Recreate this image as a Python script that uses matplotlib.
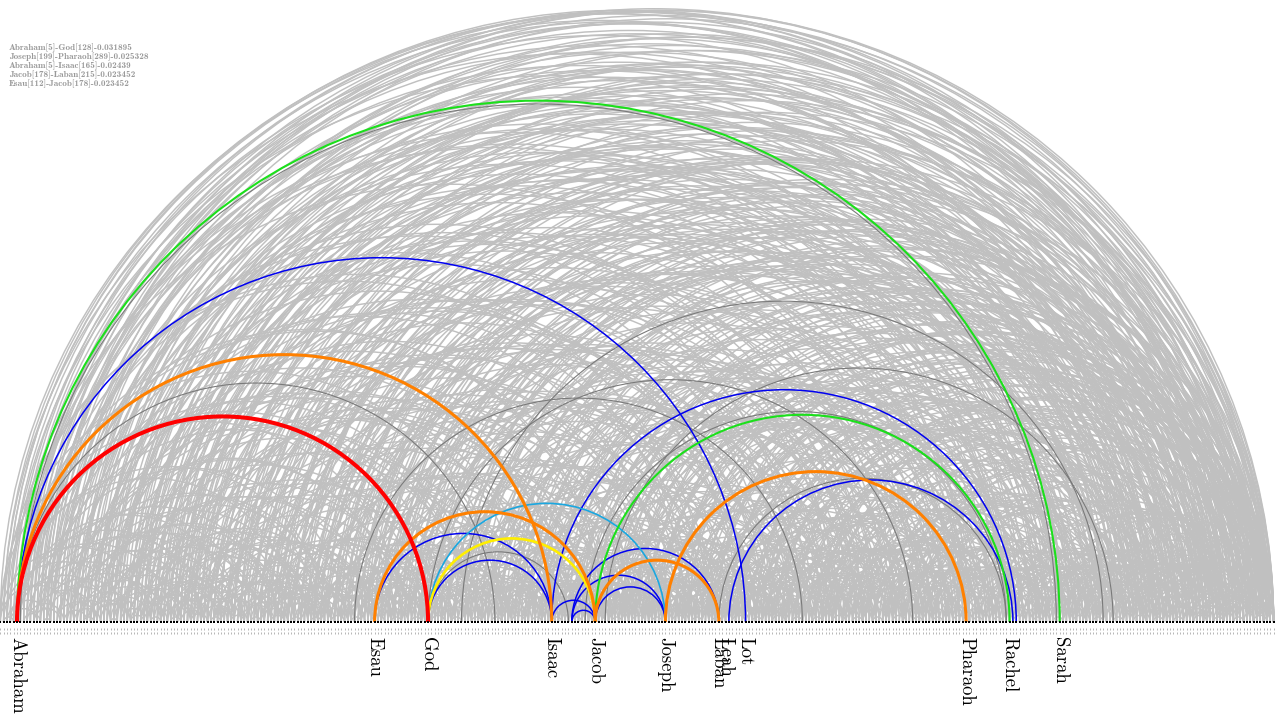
import matplotlib
matplotlib.use("Agg")
import matplotlib.pyplot as plt
from matplotlib.patches import Arc

# ---------------- data ----------------
n_nodes = 382
label_names = ["Abraham", "Esau", "God", "Isaac", "Jacob", "Joseph", "Laban",
               "Leah", "Lot", "Pharaoh", "Rachel", "Sarah"]
label_index = [5, 112, 128, 165, 178, 199, 215, 217, 223, 289, 302, 317]

top_pairs = ["Abraham[5]-God[128]-0.031895",
             "Joseph[199]-Pharaoh[289]-0.025328",
             "Abraham[5]-Isaac[165]-0.02439",
             "Jacob[178]-Laban[215]-0.023452",
             "Esau[112]-Jacob[178]-0.023452"]

gray_long = [(15,381),(1,365),(2,368),(3,362),(14,380),(6,351),(7,340),(8,366),(9,318),(10,296),(11,365),(12,250),(13,333),(14,212),(15,378),(16,290),(18,344),(19,156),(20,301),(21,367),(22,98),(23,274),(24,355),(25,187),(26,330),(27,61),(28,242),(29,379),(30,140),(31,312),(32,200),(33,359),(34,85),(35,268),(36,345),(37,120),(38,224),(39,374),(40,175),(41,306),(42,57),(43,236),(44,350),(45,92),(46,282),(47,368),(48,150),(49,320),(50,210),(51,376),(52,73),(53,258),(54,338),(55,131),(56,299),(57,190),(58,363),(59,108),(60,272),(61,347),(62,166),(63,316),(64,81),(65,229),(66,371),(67,143),(68,289),(69,205),(70,357),(71,112),(72,262),(73,332),(74,95),(75,247),(76,375),(77,181),(78,308),(79,128),(80,219),(81,352),(82,104),(83,286),(84,170),(85,364),(86,137),(87,241),(88,326),(89,117),(90,278),(91,369),(92,160),(93,231),(94,342),(95,126),(96,304),(97,196),(98,373),(99,147),(100,255),(101,336),(102,134),(103,292),(104,215),(105,360),(106,152),(107,244),(108,321),(109,178),(110,277),(111,366),(112,199),(113,233),(114,349),(115,162),(116,302),(117,188),(118,380),(119,141),(120,264),(121,328),(122,173),(123,251),(124,358),(125,194),(126,283),(127,340),(129,222),(130,317),(131,185),(132,370),(133,239),(134,297),(135,163),(136,354),(137,212),(138,288),(139,176),(140,331),(141,248),(142,377),(143,201),(144,313),(145,169),(146,266),(147,361),(148,227),(149,295),(150,184),(151,343),(152,257),(153,372),(154,208),(155,309),(156,179),(157,271),(158,335),(159,220),(160,367),(161,192),(162,284),(163,318),(164,237),(166,351),(167,203),(168,279),(169,378),(170,226),(171,303),(172,190),(173,346),(174,256),(175,323),(176,214),(177,364),(179,243),(180,298),(181,221),(182,374),(183,262),(184,329),(185,209),(186,287),(187,356),(188,235),(189,311),(190,228),(191,369),(192,273),(193,339),(194,245),(195,292),(196,218),(197,359),(198,267),(200,325),(201,238),(202,376),(203,281),(204,348),(205,252),(206,310),(207,232),(208,365),(209,276),(210,341),(211,254),(212,300),(213,379),(214,268),(216,334),(217,261),(218,371),(219,294),(220,250),(221,353),(222,285),(224,319),(225,263),(226,373),(227,306),(228,344),(229,275),(230,362),(231,290),(232,330),(233,270),(234,380),(235,312),(236,350),(237,280),(238,366),(239,305),(240,337),(241,293),(242,375),(243,322),(244,357),(245,286),(246,368),(247,314),(248,345),(249,297),(250,377),(251,327),(252,360),(253,302),(254,370),(255,333),(256,352),(257,308),(258,381),(259,324),(260,363),(261,315),(262,372),(263,340),(264,355),(265,319),(266,378),(267,336),(268,361),(269,326),(270,374),(271,347),(272,366),(273,331),(274,358),(275,320),(276,379),(277,342),(278,367),(279,328),(280,350)]

gray_mid = [(0,45),(2,88),(3,27),(5,60),(6,132),(8,19),(9,74),(11,103),(12,38),(14,66),(15,150),(17,29),(18,95),(20,54),(21,118),(23,41),(24,77),(26,160),(27,48),(29,99),(31,70),(32,126),(34,52),(35,110),(37,83),(38,58),(40,141),(41,65),(43,97),(44,171),(46,69),(47,122),(49,88),(50,63),(52,135),(53,79),(55,101),(56,184),(58,72),(59,117),(61,93),(62,149),(64,87),(65,112),(67,91),(68,176),(70,98),(71,139),(73,85),(74,123),(76,104),(77,158),(79,96),(80,130),(82,115),(83,197),(85,106),(86,146),(88,102),(89,168),(91,124),(92,109),(94,183),(95,119),(97,143),(98,113),(100,161),(101,127),(103,192),(104,121),(106,145),(107,133),(109,206),(110,136),(111,153),(113,129),(114,172),(116,151),(117,139),(119,213),(120,148),(122,167),(123,144),(125,180),(126,157),(127,198),(129,154),(130,174),(132,160),(133,217),(135,155),(136,189),(138,162),(139,204),(140,166),(142,187),(143,164),(145,230),(146,170),(148,193),(149,171),(151,211),(152,177),(154,186),(155,240),(157,182),(158,200),(160,183),(161,223),(163,195),(164,188),(166,216),(167,191),(169,207),(170,194),(172,250),(173,196),(175,225),(176,206),(177,198),(179,230),(180,204),(182,219),(183,207),(185,258),(186,212),(187,234),(189,215),(190,246),(192,221),(193,217),(195,265),(196,225),(198,231),(199,222),(201,253),(202,227),(204,244),(205,229),(207,269),(208,236),(210,233),(211,260),(213,239),(214,282),(216,242),(217,249),(219,247),(220,275),(222,246),(223,258),(225,252),(226,290),(228,255),(229,270),(231,259),(232,297),(234,262),(235,279),(237,266),(238,304),(240,268),(241,284),(243,271),(244,311),(246,275),(247,293),(249,278),(250,318),(252,281),(253,299),(255,284),(256,325),(258,287),(259,303),(261,290),(262,332),(264,294),(265,310),(267,298),(268,341),(270,300),(271,316),(273,305),(274,348),(276,307),(277,321),(279,312),(280,353),(282,314),(283,326),(285,317),(286,359),(288,320),(289,331),(291,323),(292,364),(294,327),(295,337),(297,330),(298,368),(300,333),(301,342),(303,336),(304,372),(306,339),(307,347),(309,343),(310,376),(312,346),(313,351),(315,349),(316,378),(318,352),(319,356),(321,355),(322,380),(324,358),(325,361),(327,362),(328,381),(330,365),(331,366),(333,368),(334,374),(336,370),(337,369),(339,373),(340,377),(342,375),(343,379),(345,378),(346,372),(348,380),(349,367),(351,381),(353,376),(354,371),(356,379),(358,374),(360,377),(362,380),(364,378),(366,381)]

gray_short = [(1,4),(3,11),(7,12),(10,18),(13,15),(19,26),(22,30),(25,28),(28,39),(33,35),(36,44),(39,43),(42,53),(45,48),(48,57),(51,54),(54,61),(57,62),(60,70),(63,66),(66,74),(69,73),(72,82),(75,78),(78,86),(81,85),(84,95),(87,90),(90,99),(93,96),(96,104),(99,103),(102,112),(105,108),(108,117),(111,115),(114,122),(117,120),(120,129),(123,126),(126,135),(129,133),(132,141),(135,138),(138,145),(141,144),(144,153),(147,150),(150,158),(153,157),(156,165),(159,162),(162,170),(165,168),(168,177),(171,174),(174,183),(177,181),(180,188),(183,186),(186,195),(189,193),(192,201),(195,198),(198,206),(201,205),(204,213),(207,210),(210,219),(213,216),(216,224),(219,223),(222,231),(225,228),(228,236),(231,235),(234,243),(237,240),(240,249),(243,246),(246,254),(249,253),(252,261),(255,258),(258,266),(261,264),(264,273),(267,271),(270,279),(273,276),(276,284),(279,282),(282,291),(285,289),(288,296),(291,294),(294,303),(297,300),(300,309),(303,307),(306,314),(309,312),(312,321),(315,318),(318,326),(321,325),(324,333),(327,330),(330,339),(333,336),(336,344),(339,343),(342,350),(345,348),(348,357),(351,354),(354,362),(357,361),(360,369),(363,366),(366,375),(369,372),(372,380),(375,379)]

gray_wide = [(0,360),(1,341),(2,366),(3,330),(4,355),(5,370),(6,372),(7,300),(8,349),(9,374),(10,368),(11,325),(12,379),(13,343),(14,366),(15,310),(16,375),(17,352),(18,334),(19,380),(20,361),(21,289),(22,371),(23,347),(24,318),(25,377),(26,356),(27,339),(28,373),(29,305),(30,364),(31,381),(32,342),(33,328),(34,376),(35,350),(36,313),(37,369),(38,380),(39,337),(40,358),(41,374),(42,321),(43,363),(44,379),(45,345),(46,303),(47,370),(48,333),(49,377),(50,354),(51,316),(52,366),(53,381),(54,327),(55,360),(56,375),(57,340),(58,311),(59,372),(60,348),(62,378),(64,336),(66,362),(68,380),(70,323),(72,368),(74,351),(76,381),(78,339),(80,374),(82,357),(84,329),(86,377),(88,363),(90,344),(92,380),(94,371),(96,335),(98,359),(100,376),(102,349),(104,381),(106,366),(108,338),(110,373),(112,355),(114,379),(116,346),(118,367),(120,331),(122,378),(124,362),(126,342),(130,370),(134,353),(138,379),(142,365),(146,340),(150,375),(154,358),(158,381),(162,347),(166,372),(170,361),(174,380),(178,352),(182,369),(186,377),(190,357),(194,381),(198,371),(202,363),(206,379),(210,373),(214,360),(218,381),(222,376),(226,365),(230,379)]

gray_span = [(0,150),(2,210),(4,97),(7,181),(9,240),(11,62),(13,128),(16,199),(19,275),(22,140),(25,83),(28,221),(31,169),(34,260),(37,112),(40,195),(43,288),(46,131),(49,228),(52,174),(55,301),(58,122),(61,207),(64,256),(67,152),(70,237),(73,310),(76,165),(79,280),(82,203),(85,248),(88,320),(91,178),(94,226),(97,293),(100,214),(103,268),(106,190),(109,331),(112,246),(115,209),(118,297),(121,186),(124,273),(127,235),(130,341),(133,201),(136,262),(139,315),(142,227),(145,289),(148,352),(151,213),(154,277),(157,238),(160,306),(163,259),(166,330),(169,220),(172,287),(175,345),(178,241),(181,300),(184,362),(187,253),(190,322),(193,271),(196,338),(199,285),(202,357),(205,263),(208,326),(211,292),(214,370),(217,279),(220,335),(223,296),(226,318),(229,289),(232,348),(235,304),(238,364),(241,285),(244,328),(247,372),(250,301),(253,344),(256,311),(259,376),(262,333),(265,299),(268,356),(271,322),(274,380),(277,343),(280,313),(283,365),(286,337),(289,378),(292,350),(295,329),(298,371),(301,345),(304,367),(307,336),(310,375),(313,354),(316,381),(319,362),(322,346),(325,374),(328,358)]

gray_near = [(0,22),(1,37),(2,15),(4,51),(5,33),(6,70),(8,44),(10,29),(12,81),(14,35),(15,58),(17,46),(18,72),(20,33),(21,64),(23,90),(24,49),(26,39),(27,86),(29,57),(30,45),(32,77),(33,54),(35,67),(36,92),(38,61),(39,50),(41,83),(42,69),(44,60),(45,101),(47,73),(48,66),(50,94),(51,79),(53,68),(54,105),(56,81),(57,75),(59,96),(60,88),(62,77),(63,111),(65,89),(66,84),(68,102),(69,94),(71,86),(72,118),(74,97),(75,92),(77,110),(78,99),(80,95),(81,127),(83,104),(84,100),(86,119),(87,108),(89,105),(90,134),(92,116),(93,109),(95,128),(96,117),(98,114),(99,142),(101,125),(102,118),(104,137),(105,126),(107,122),(108,151),(110,132),(111,127),(113,146),(114,135),(116,131),(117,160),(119,141),(120,136),(122,155),(123,144),(125,140),(126,169),(128,150),(129,145),(131,164),(132,153),(134,149),(135,178),(137,159),(138,154),(140,173),(141,162),(143,158),(144,187),(146,168),(147,163),(149,182),(150,171),(152,167),(153,196),(155,177),(156,172),(158,191),(159,180),(161,176),(162,205),(164,186),(165,181),(167,200),(168,189),(170,185),(171,214),(173,195),(174,190),(176,209),(177,198),(179,194),(180,223),(182,204),(183,199),(185,218),(186,207),(188,203),(189,232),(191,213),(192,208),(194,227),(195,216),(197,212),(198,241),(200,222),(201,217),(203,236),(204,225),(206,221),(207,250),(209,231),(210,226),(212,245),(213,234),(215,230),(216,259),(218,240),(219,235),(221,254),(222,243),(224,239),(225,268),(227,249),(228,244),(230,263),(231,252),(233,248),(234,277),(236,258),(237,253),(239,272),(240,261),(242,257),(243,286),(245,267),(246,262),(248,281),(249,270),(251,266),(252,295),(254,276),(255,271),(257,290),(258,279),(260,275),(261,304),(263,285),(264,280),(266,299),(267,288),(269,284),(270,313),(272,294),(273,289),(275,308),(276,297),(278,293),(279,322),(281,303),(282,298),(284,317),(285,306),(287,302),(288,331),(290,312),(291,307),(293,326),(294,315),(296,311),(297,340),(299,321),(300,316),(302,335),(303,324),(305,320),(306,349),(308,330),(309,325),(311,344),(312,333),(314,329),(315,358),(317,339),(318,334),(320,353),(321,342),(323,338),(324,367),(326,348),(327,343),(329,362),(330,351),(332,347),(333,376),(335,357),(336,352),(338,371),(339,360),(341,356),(342,381),(344,366),(345,361),(347,380),(348,369),(350,365),(352,374),(355,370),(357,378),(359,375),(361,379),(363,377),(365,380),(367,381)]

gray_big = [(0,120),(1,205),(3,265),(5,180),(6,290),(8,140),(10,231),(12,310),(14,166),(16,249),(18,330),(20,118),(22,207),(24,285),(26,143),(28,256),(30,336),(32,179),(34,222),(36,300),(38,160),(40,262),(42,344),(44,197),(46,239),(48,318),(50,171),(52,283),(54,352),(56,214),(58,251),(60,327),(62,189),(64,296),(66,358),(68,232),(70,270),(72,341),(74,203),(76,308),(78,361),(80,246),(82,287),(84,349),(86,218),(88,315),(90,364),(92,258),(94,303),(96,354),(98,226),(100,322),(102,365),(104,267),(106,316),(108,359),(110,240),(112,334),(114,366),(116,276),(118,329),(120,362),(122,254),(124,345),(126,367),(128,281),(130,338),(132,366),(134,261),(136,350),(138,372),(140,291),(142,346),(144,375),(146,270),(148,356),(150,378),(152,298),(154,351),(156,380),(158,279),(160,360),(162,381),(164,306),(166,363),(168,290),(170,369),(172,314),(174,374),(176,295),(178,377),(180,320),(182,379),(184,302),(186,371),(188,327),(190,381),(192,309),(194,373),(196,333),(198,378),(200,317),(202,374),(204,339),(206,380),(208,324),(210,376),(212,345),(214,381),(216,330),(218,377),(220,350),(222,379),(224,336),(226,378),(228,355),(230,381),(232,341),(234,375),(236,358),(238,380),(240,346),(242,376),(244,363),(246,381),(248,352),(250,379)]

dark_edges = [(5,148),(106,240),(138,330),(181,333),(128,273),(128,170),(215,301),(175,301),(6,316)]

blue_edges = [(5,223),(112,165),(128,165),(165,178),(171,178),(171,199),(171,215),(178,199),(165,304),(218,303)]
cyan_edges = [(128,199)]
yellow_edges = [(128,178)]
green_edges = [(5,317),(178,302)]
orange_edges = [(5,165),(112,178),(178,215),(199,289)]
red_edges = [(5,128)]

# ---------------- figure ----------------
W, H = 1279, 715
PX0, PXU, BASE = 0.3, 3.342, 622.0   # pixel mapping used only for the view limits

fig = plt.figure(figsize=(W / 100, H / 100), dpi=100)
ax = fig.add_axes([0, 0, 1, 1])
ax.set_xlim((0 - PX0) / PXU, (W - PX0) / PXU)
ax.set_ylim((BASE - H) / PXU, BASE / PXU)
ax.axis("off")


def draw(edges, color, lw, z):
    for a, b in edges:
        lo, hi = min(a, b), max(a, b)
        d = hi - lo
        ax.add_patch(Arc(((lo + hi) / 2.0, 0), d, d, theta1=0, theta2=180,
                         color=color, lw=lw, zorder=z))


for grp in (gray_long, gray_mid, gray_short, gray_wide, gray_span, gray_near, gray_big):
    draw(grp, "#c0c0c0", 1.05, 1)
draw(dark_edges, "#7a7a7a", 0.8, 2)
draw(blue_edges, "#0000f0", 1.1, 3)
draw(cyan_edges, "#1aa7e0", 1.2, 3)
draw(yellow_edges, "#ffee00", 1.9, 4)
draw(green_edges, "#1be01b", 1.5, 4)
draw(orange_edges, "#ff8000", 2.2, 5)
draw(red_edges, "#ff0000", 2.9, 6)

nodes = list(range(n_nodes))
ax.scatter(nodes, [0] * n_nodes, s=2.6, marker="s", color="black", lw=0, zorder=8)
ax.scatter(nodes, [-1.95] * n_nodes, s=2.0, marker="|", color="#9a9a9a", lw=0.5, zorder=8)
ax.scatter(nodes, [-3.15] * n_nodes, s=2.0, marker="|", color="#9a9a9a", lw=0.5, zorder=8)

for name, idx in zip(label_names, label_index):
    ax.text(idx, -4.4, name, rotation=-90, ha="center", va="top",
            fontsize=13.5, family=["cmr10", "DejaVu Serif"], color="black")

for i, t in enumerate(top_pairs):
    fig.text(9 / W, 1 - (48 + 9 * i) / H, t, ha="left", va="center",
             fontsize=6.6, family=["cmb10", "DejaVu Serif"], color="#9a9a9a")

fig.savefig("out.png", dpi=100)
